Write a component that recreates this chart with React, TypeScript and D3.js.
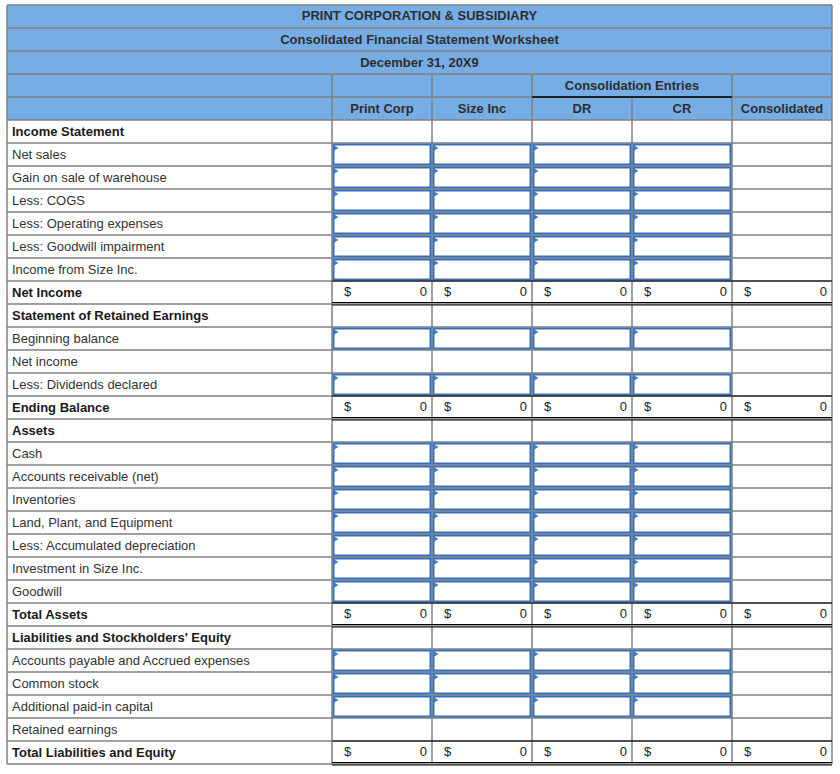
import React, { useRef, useEffect } from "react";
import * as d3 from "d3";

// worksheet content
const titleLines = [
  "PRINT CORPORATION & SUBSIDIARY",
  "Consolidated Financial Statement Worksheet",
  "December 31, 20X9",
];
const groupHeader = "Consolidation Entries";
const columns = ["Print Corp", "Size Inc", "DR", "CR", "Consolidated"];
const inputColumns = ["Print Corp", "Size Inc", "DR", "CR"];

const rowLabels = [
  "Income Statement",
  "Net sales",
  "Gain on sale of warehouse",
  "Less: COGS",
  "Less: Operating expenses",
  "Less: Goodwill impairment",
  "Income from Size Inc.",
  "Net Income",
  "Statement of Retained Earnings",
  "Beginning balance",
  "Net income",
  "Less: Dividends declared",
  "Ending Balance",
  "Assets",
  "Cash",
  "Accounts receivable (net)",
  "Inventories",
  "Land, Plant, and Equipment",
  "Less: Accumulated depreciation",
  "Investment in Size Inc.",
  "Goodwill",
  "Total Assets",
  "Liabilities and Stockholders' Equity",
  "Accounts payable and Accrued expenses",
  "Common stock",
  "Additional paid-in capital",
  "Retained earnings",
  "Total Liabilities and Equity",
];

// section = bold heading, input = entry boxes, plain = empty, total = $ 0
const rowTypes = [
  "section", "input", "input", "input", "input", "input", "input", "total",
  "section", "input", "plain", "input", "total",
  "section", "input", "input", "input", "input", "input", "input", "input", "total",
  "section", "input", "input", "input", "plain", "total",
];

const netIncomeTotals = [0, 0, 0, 0, 0];
const endingBalanceTotals = [0, 0, 0, 0, 0];
const totalAssetsTotals = [0, 0, 0, 0, 0];
const totalLiabEquityTotals = [0, 0, 0, 0, 0];
const totalsByRow = {
  "Net Income": netIncomeTotals,
  "Ending Balance": endingBalanceTotals,
  "Total Assets": totalAssetsTotals,
  "Total Liabilities and Equity": totalLiabEquityTotals,
};

const Worksheet = ({ width, height }) => {
  const ref = useRef(null);

  useEffect(() => {
    const svg = d3.select(ref.current);
    svg.selectAll("*").remove();

    const left = 7;
    const labelRight = 332;
    const right = 832;
    const top = 5;
    const rowH = 23;
    const headerBottom = top + rowH * 5;
    const bodyBottom = headerBottom + rowH * rowLabels.length;

    const font = "Arial, 'Liberation Sans', sans-serif";
    const grid = "#808080";
    const headerFill = "#77ade5";
    const boxBlue = "#3b6fb3";

    const xCol = d3.scaleBand().domain(columns).range([labelRight, right]);
    const yHead = d3.scaleBand().domain(d3.range(5)).range([top, headerBottom]);
    const yRow = d3
      .scaleBand()
      .domain(d3.range(rowLabels.length))
      .range([headerBottom, bodyBottom]);

    // header background
    svg
      .append("rect")
      .attr("x", left)
      .attr("y", top)
      .attr("width", right - left)
      .attr("height", headerBottom - top)
      .attr("fill", headerFill);

    // body background
    svg
      .append("rect")
      .attr("x", left)
      .attr("y", headerBottom)
      .attr("width", right - left)
      .attr("height", bodyBottom - headerBottom)
      .attr("fill", "#fff");

    const gridG = svg.append("g").attr("stroke", grid).attr("stroke-width", 1.5);

    // horizontal lines
    const hLines = d3.range(6).map((i) => top + i * rowH).concat(
      d3.range(1, rowLabels.length + 1).map((i) => headerBottom + i * rowH)
    );
    gridG
      .selectAll(".h")
      .data(hLines)
      .enter()
      .append("line")
      .attr("x1", left)
      .attr("x2", right)
      .attr("y1", (d) => d)
      .attr("y2", (d) => d);

    // vertical lines: outer frame full height, inner from row 4 down
    gridG
      .selectAll(".outer")
      .data([left, right])
      .enter()
      .append("line")
      .attr("x1", (d) => d)
      .attr("x2", (d) => d)
      .attr("y1", top)
      .attr("y2", bodyBottom);

    const innerX = columns.map((c) => xCol(c));
    gridG
      .selectAll(".inner")
      .data(innerX)
      .enter()
      .append("line")
      .attr("x1", (d) => d)
      .attr("x2", (d) => d)
      .attr("y1", yHead(3))
      .attr("y2", bodyBottom);
    // no divider between DR and CR in the group header row
    svg
      .append("rect")
      .attr("x", xCol("CR") - 1)
      .attr("y", yHead(3) + 1)
      .attr("width", 2)
      .attr("height", rowH - 2)
      .attr("fill", headerFill);

    // black rule under "Consolidation Entries"
    svg
      .append("line")
      .attr("x1", xCol("DR"))
      .attr("x2", xCol("CR") + xCol.bandwidth())
      .attr("y1", yHead(4))
      .attr("y2", yHead(4))
      .attr("stroke", "#000")
      .attr("stroke-width", 1.5);

    // header texts
    const headG = svg
      .append("g")
      .attr("font-family", font)
      .attr("font-size", 13)
      .attr("font-weight", "bold")
      .attr("fill", "#2e2e2e")
      .attr("text-anchor", "middle");

    headG
      .selectAll(".title")
      .data(titleLines)
      .enter()
      .append("text")
      .attr("x", (left + right) / 2)
      .attr("y", (d, i) => yHead(i) + (i === 0 ? 15 : 15.5))
      .text((d) => d);

    headG
      .append("text")
      .attr("x", xCol("CR"))
      .attr("y", yHead(3) + 15.5)
      .text(groupHeader);

    headG
      .selectAll(".col")
      .data(columns)
      .enter()
      .append("text")
      .attr("x", (d) => xCol(d) + xCol.bandwidth() / 2)
      .attr("y", yHead(4) + 15.5)
      .text((d) => d);

    // row labels
    svg
      .append("g")
      .attr("font-family", font)
      .attr("font-size", 13)
      .selectAll("text")
      .data(rowLabels)
      .enter()
      .append("text")
      .attr("x", left + 5)
      .attr("y", (d, i) => yRow(i) + 15.5)
      .attr("font-weight", (d, i) =>
        rowTypes[i] === "section" || rowTypes[i] === "total" ? "bold" : "normal"
      )
      .attr("fill", (d, i) =>
        rowTypes[i] === "section" || rowTypes[i] === "total" ? "#1a1a1a" : "#333"
      )
      .text((d) => d);

    // input boxes
    const inputRows = d3.range(rowLabels.length).filter((i) => rowTypes[i] === "input");
    const cells = inputRows.flatMap((r) => inputColumns.map((c) => ({ r, c })));
    const boxG = svg.append("g");
    boxG
      .selectAll("rect")
      .data(cells)
      .enter()
      .append("rect")
      .attr("x", (d) => xCol(d.c) + 1.5)
      .attr("y", (d) => yRow(d.r) + 1.5)
      .attr("width", xCol.bandwidth() - 3)
      .attr("height", rowH - 3)
      .attr("fill", "#fff")
      .attr("stroke", boxBlue)
      .attr("stroke-width", 2);
    boxG
      .selectAll("path")
      .data(cells)
      .enter()
      .append("path")
      .attr("d", (d) => {
        const x = xCol(d.c) + 1.5;
        const y = yRow(d.r) + 2;
        return `M${x},${y}L${x + 5},${y + 3}L${x},${y + 6}Z`;
      })
      .attr("fill", "#3f7ccc");

    // total rows
    const totalRows = d3.range(rowLabels.length).filter((i) => rowTypes[i] === "total");
    const ruleG = svg.append("g").attr("stroke", "#000").attr("stroke-width", 1.2);
    totalRows.forEach((r) => {
      const y0 = yRow(r);
      const y1 = y0 + rowH;
      [y0, y1 - 1.5, y1 + 1].forEach((y) => {
        ruleG
          .append("line")
          .attr("x1", labelRight)
          .attr("x2", right)
          .attr("y1", y)
          .attr("y2", y);
      });

      const vals = totalsByRow[rowLabels[r]];
      const tg = svg
        .append("g")
        .attr("font-family", font)
        .attr("font-size", 13)
        .attr("fill", "#222");
      tg.selectAll(".dollar")
        .data(columns)
        .enter()
        .append("text")
        .attr("x", (d) => xCol(d) + 12)
        .attr("y", y0 + 15)
        .text("$");
      tg.selectAll(".val")
        .data(columns)
        .enter()
        .append("text")
        .attr("x", (d) => xCol(d) + xCol.bandwidth() - 5)
        .attr("y", y0 + 15)
        .attr("text-anchor", "end")
        .text((d, i) => d3.format(",")(vals[i]));
    });
  }, [width, height]);

  return (
    <svg
      ref={ref}
      width={width}
      height={height}
      style={{ position: "absolute", left: 0, top: 0, display: "block" }}
    />
  );
};

export default function App() {
  return <Worksheet width={840} height={774} />;
}
